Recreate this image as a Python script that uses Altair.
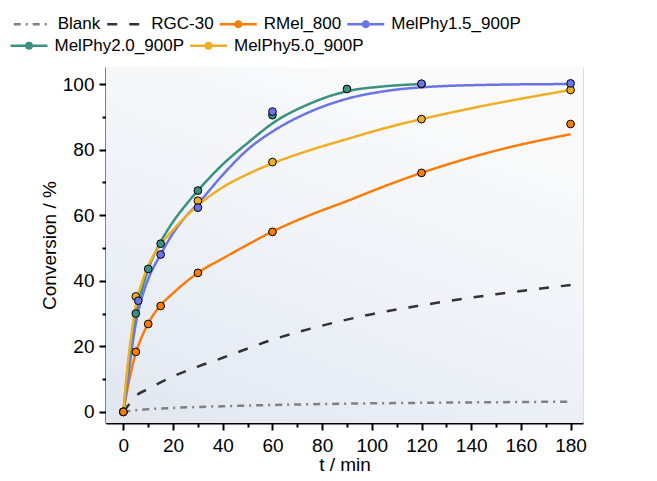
import altair as alt
import pandas as pd

# ---------------- data ----------------
series = ["Blank", "RGC-30", "RMel_800", "MelPhy1.5_900P", "MelPhy2.0_900P", "MelPhy5.0_900P"]
colors = ["#808080", "#333333", "#fa7d09", "#6b74e6", "#3a9182", "#f0ae22"]
dashes = [[7, 5, 2, 5], [10, 12], [1, 0], [1, 0], [1, 0], [1, 0]]

# fitted curves
blank_t = [0, 5, 10, 20, 40, 60, 90, 120, 150, 180]
blank_v = [0, 0.5, 0.8, 1.2, 1.7, 2.1, 2.5, 2.75, 2.95, 3.1]

rgc_t = [0, 2, 5, 10, 20, 30, 40, 60, 80, 100, 120, 150, 180]
rgc_v = [0, 2.0, 4.8, 7.0, 10.8, 13.8, 16.5, 22.0, 26.3, 29.8, 32.5, 35.9, 38.7]

rmel_t = [0, 2, 3, 5, 7.5, 10, 15, 20, 30, 40, 50, 60, 75, 90, 105, 120, 150, 180]
rmel_v = [0, 8.5, 12, 18, 23, 27, 32.5, 36.2, 42.4, 46.8, 51, 55, 60, 64.3, 68.8, 72.9, 79.7, 84.7]

mp15_t = [0, 2, 3, 5, 7.5, 10, 15, 20, 25, 30, 40, 50, 60, 75, 90, 105, 120, 150, 180]
mp15_v = [0, 11, 17, 27, 35, 40.5, 48, 54.5, 59.5, 63.5, 72.3, 80, 85.5, 91.5, 95.5, 97.8, 99.0, 99.8, 100]

mp20_t = [0, 2, 3, 5, 7.5, 10, 15, 20, 25, 30, 40, 50, 60, 75, 90, 105, 120]
mp20_v = [0, 15, 21, 30.5, 37.5, 43.5, 51.8, 58, 63, 67.5, 75.5, 82, 88, 94, 97.8, 99.3, 100]

mp50_t = [0, 2, 3, 5, 7.5, 10, 15, 20, 30, 40, 50, 60, 75, 90, 105, 120, 135, 150, 165, 180]
mp50_v = [0, 16, 22, 32.5, 39.5, 44.5, 51, 55.5, 63, 68.5, 72.5, 75.8, 79.8, 83.2, 86.5, 89.3, 91.8, 94.1, 96.2, 98.2]

pt_mp50_t = [0, 5, 30, 60, 120, 180]
pt_mp50_v = [0, 35.2, 64.4, 76.2, 89.3, 98.2]
pt_mp20_t = [0, 5, 10, 15, 30, 60, 90, 120]
pt_mp20_v = [0, 30.0, 43.6, 51.3, 67.5, 90.5, 98.5, 100.0]
pt_mp15_t = [0, 6, 15, 30, 60, 120, 180]
pt_mp15_v = [0, 33.9, 48.0, 62.3, 91.6, 100.1, 100.2]
pt_rmel_t = [0, 5, 10, 15, 30, 60, 120, 180]
pt_rmel_v = [0, 18.3, 26.8, 32.3, 42.4, 54.9, 72.9, 87.8]

# ---------------- tables ----------------
curve_sets = [("Blank", blank_t, blank_v), ("RGC-30", rgc_t, rgc_v), ("RMel_800", rmel_t, rmel_v),
              ("MelPhy1.5_900P", mp15_t, mp15_v), ("MelPhy2.0_900P", mp20_t, mp20_v),
              ("MelPhy5.0_900P", mp50_t, mp50_v)]
curves = pd.DataFrame([{"series": s, "t": t, "v": v} for s, ts, vs in curve_sets for t, v in zip(ts, vs)])

point_sets = [("MelPhy5.0_900P", pt_mp50_t, pt_mp50_v), ("MelPhy2.0_900P", pt_mp20_t, pt_mp20_v),
              ("MelPhy1.5_900P", pt_mp15_t, pt_mp15_v), ("RMel_800", pt_rmel_t, pt_rmel_v)]
points = pd.DataFrame([{"series": s, "t": t, "v": v, "order": i}
                       for i, (s, ts, vs) in enumerate(point_sets) for t, v in zip(ts, vs)])

# legend symbol paths (line, or line with a dot); unit = sqrt(symbolSize)/2 px
L = 1.9
line_only = f"M-{L},0L{L},0"
r1, r2 = 0.123, 0.28
line_dot = (f"M-{L},0L{L},0M{r1},0A{r1},{r1},0,1,1,-{r1},0A{r1},{r1},0,1,1,{r1},0"
            f"M{r2},0A{r2},{r2},0,1,1,-{r2},0A{r2},{r2},0,1,1,{r2},0")
shapes = [line_only, line_only, line_dot, line_dot, line_dot, line_dot]

W, H = 477, 356
FONT = "Liberation Sans"
FS = 19
SYM = 380  # unit 9.75px

xscale = alt.Scale(domain=[-7, 185], nice=False, zero=False)
yscale = alt.Scale(domain=[-3.4, 105.2], nice=False, zero=False)
cscale = alt.Scale(domain=series, range=colors)
dscale = alt.Scale(domain=series, range=dashes)
sscale = alt.Scale(domain=series, range=shapes)

tick_cond = {"condition": {"test": "datum.value % 20 == 0", "value": 7}, "value": 4}
common_axis = dict(grid=False, domainColor="black", tickColor="black", labelColor="black",
                   titleColor="black", labelFontSize=FS, titleFontSize=FS, labelFont=FONT,
                   titleFont=FONT, titleFontWeight="normal", domainWidth=2, tickWidth=2,
                   labelOverlap=False, labelFlush=False, tickSize=tick_cond,
                   labelExpr="datum.value % 20 == 0 ? datum.label : ''")

X = alt.X("t:Q", scale=xscale,
          axis=alt.Axis(values=list(range(0, 190, 10)), title="t / min", titlePadding=0,
                        labelPadding=6, **common_axis))
Y = alt.Y("v:Q", scale=yscale,
          axis=alt.Axis(values=list(range(0, 101, 10)), title="Conversion / %", titlePadding=3,
                        labelPadding=5, **common_axis))

bg = alt.Chart(pd.DataFrame({"a": [0]})).mark_rect(
    color={"gradient": "linear", "x1": 0, "y1": 1, "x2": 0.5, "y2": 0,
           "stops": [{"offset": 0, "color": "#e2e6ef"}, {"offset": 0.5, "color": "#eef2f8"},
                     {"offset": 1, "color": "#fafafa"}]}
).encode(x=alt.value(0), x2=alt.value(W), y=alt.value(0), y2=alt.value(H))

leg_common = dict(title=None, orient="none", direction="horizontal", columnPadding=0.5,
                  labelOffset=14.5, symbolSize=SYM, symbolStrokeWidth=2.5, labelFont=FONT,
                  labelFontSize=17, labelColor="black", padding=0, labelLimit=300)
legA = alt.Legend(legendX=-84.75, legendY=-53.75, columns=4, values=series[:4], **leg_common)
legB = alt.Legend(legendX=-88, legendY=-32.25, columns=2, symbolType=line_dot, **leg_common)

legend_a = alt.Chart(curves).mark_point(filled=False, strokeWidth=2.5, opacity=1, size=SYM).encode(
    color=alt.Color("series:N", scale=cscale, legend=legA),
    shape=alt.Shape("series:N", scale=sscale, legend=legA),
    strokeDash=alt.StrokeDash("series:N", scale=dscale, legend=legA),
).transform_filter("false")

legend_b = alt.Chart(curves).mark_point(filled=False, strokeWidth=2.5, opacity=1, size=SYM).encode(
    stroke=alt.Stroke("series:N", scale=alt.Scale(domain=series[4:], range=colors[4:]), legend=legB),
).transform_filter("false")

lines = alt.Chart(curves).mark_line(strokeWidth=2.5, interpolate="monotone").encode(
    x=X, y=Y,
    color=alt.Color("series:N", scale=cscale, legend=None),
    strokeDash=alt.StrokeDash("series:N", scale=dscale, legend=None),
)

dots = alt.Chart(points).mark_point(filled=True, size=60, stroke="black", strokeWidth=1, opacity=1).encode(
    x=X, y=Y,
    color=alt.Color("series:N", scale=cscale, legend=None),
    order=alt.Order("order:Q"),
)

chart = alt.layer(bg, legend_a, legend_b, lines, dots).properties(
    width=W, height=H,
    autosize=alt.AutoSizeParams(type="none"),
    padding={"left": 98, "top": 59, "right": 66, "bottom": 50},
).configure_view(stroke=None).configure_legend(symbolSize=SYM).configure(background="white")

chart.save("out.html", embed_options={"renderer": "svg", "actions": False})
